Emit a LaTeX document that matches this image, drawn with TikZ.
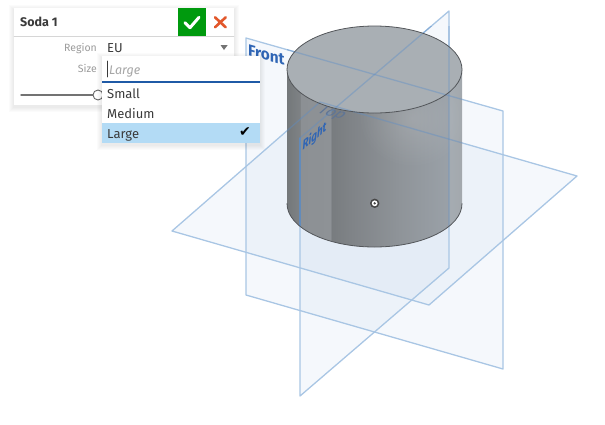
\documentclass[tikz,border=0pt]{standalone}
\usepackage{fontspec}
\setmainfont{Fira Sans}
\newfontfamily\symfont{DejaVu Sans}
\usetikzlibrary{fadings}
\definecolor{planefill}{HTML}{5B8DC8}
\definecolor{planeline}{HTML}{A9C6E4}
\definecolor{planetext}{HTML}{2F65B5}
\definecolor{toptext}{HTML}{5F7596}
\definecolor{capfill}{HTML}{A9AFB4}
\definecolor{edgeline}{HTML}{53565A}
\definecolor{okgreen}{HTML}{009A0E}
\definecolor{cancelred}{HTML}{E2572B}
\definecolor{rowblue}{HTML}{B3DBF5}
\definecolor{inkdark}{HTML}{3A3A3A}
\definecolor{inkgray}{HTML}{9B9B9B}
\definecolor{rulegray}{HTML}{D6D6D6}
\definecolor{underblue}{HTML}{1F5AA6}
\definecolor{sidea}{HTML}{74787A}
\definecolor{sideb}{HTML}{7E8285}
\definecolor{sidec}{HTML}{8C9094}
\definecolor{sided}{HTML}{8E9296}
\definecolor{sidee}{HTML}{787C7F}
\definecolor{sidef}{HTML}{7F8387}
\definecolor{sideg}{HTML}{8F9499}
\definecolor{sideh}{HTML}{9AA1A8}
\definecolor{sidei}{HTML}{A5ACB2}
\definecolor{sidej}{HTML}{A3A8AD}
\pgfdeclarehorizontalshading{sodaside}{100bp}{
	color(0bp)=(sidea); color(25bp)=(sidea); color(28.7bp)=(sideb); color(28.75bp)=(sidec);
	color(37.5bp)=(sided); color(37.6bp)=(sidee); color(43bp)=(sidef);
	color(57.3bp)=(sideg); color(71.25bp)=(sideh); color(71.35bp)=(sidei);
	color(75bp)=(sidej); color(100bp)=(sidej)}
\tikzfading[name=sodaglow, inner color=transparent!86, outer color=transparent!100]
\newcommand{\softshadow}[4]{\foreach \s in {1,2,3,4,5}
	\fill[black, opacity=.016] (#1-\s,#2-\s+2) rectangle (#3+\s,#4+\s+2);}
\tikzset{
	panelbox/.style={fill=white, draw=none, inner sep=0pt},
	plane/.style={fill=planefill, fill opacity=.06, draw=none},
	planeedge/.style={draw=planeline, line width=1.3pt},
	fieldlabel/.style={text=inkgray, font=\fontsize{10.5}{12}\selectfont, anchor=base east, inner sep=0pt},
	fieldtext/.style={text=inkdark, font=\fontsize{13}{15}\selectfont, anchor=base west, inner sep=0pt},
	planelabel/.style={text=planetext, font=\fontsize{16}{18}\selectfont\bfseries, anchor=base west, inner sep=0pt, transform shape}
}
\begin{document}
\begin{tikzpicture}[x=1pt, y=-1pt, line join=round, line cap=round]
	\useasboundingbox (0,0) rectangle (605,424);
	% cac mat phang
	\fill[plane] (246,38)--(503,111)--(503,369)--(246,295)--cycle;
	\fill[plane] (300,138)--(449,11)--(449,268)--(300,396)--cycle;
	\fill[plane] (172,231)--(320,102)--(577,176)--(429,305)--cycle;
	\draw[planeedge] (246,38)--(503,111)--(503,369)--(246,295)--cycle;
	\draw[planeedge] (300,138)--(449,11)--(449,268)--(300,396)--cycle;
	\draw[planeedge] (172,231)--(320,102)--(577,176)--(429,305)--cycle;
	\node[planelabel, cm={.962,-.273,0,1,(0,0)}] (frontlabel) at (248,55) {Front};
	% hinh tru
	\def\rx{87.5pt} \def\ry{43.5pt}
	\shade[shading=sodaside] (287,69.5)--(287,203.5) arc[start angle=180, end angle=360, x radius=\rx, y radius=\ry]--(462,69.5)--cycle;
	\begin{scope}
		\clip (287,69.5)--(287,203.5) arc[start angle=180, end angle=360, x radius=\rx, y radius=\ry]--(462,69.5)--cycle;
		\fill[white, path fading=sodaglow] (412,118) ellipse[x radius=55pt, y radius=50pt];
		\node[planelabel, text=toptext, font=\fontsize{16}{18}\selectfont, cm={.96,-.28,.75,.66,(0,0)}] (toplabel) at (316,112) {Top};
	\end{scope}
	\fill[capfill] (374.5,69.5) ellipse[x radius=\rx, y radius=\ry];
	\begin{scope}
		\clip (287,69.5)--(287,203.5) arc[start angle=180, end angle=360, x radius=\rx, y radius=\ry]--(462,69.5)--(462,26)--(287,26)--cycle;
		\draw[planeedge, draw=planefill, opacity=.4] (246,38)--(503,111);
		\draw[planeedge, draw=planefill, opacity=.4] (300,138)--(449,11)--(449,268);
		\draw[planeedge, draw=planefill, opacity=.4] (172,231)--(320,102)--(577,176);
		\draw[planeedge, draw=planefill, opacity=.8] (300,138)--(300,396);
	\end{scope}
	\draw[edgeline, line width=.8pt] (374.5,69.5) ellipse[x radius=\rx, y radius=\ry];
	\draw[edgeline, line width=.8pt] (287,203.5) arc[start angle=180, end angle=360, x radius=\rx, y radius=\ry];
	\node[planelabel, font=\fontsize{13}{15}\selectfont\itshape\bfseries, cm={.76,.65,0,1,(0,0)}] (rightlabel) at (302.5,151) {Right};
	% diem goc
	\fill[black!72] (374.7,203.3) circle(4.7);
	\fill[white] (374.7,203.3) circle(2.9);
	\fill[black!72] (374.7,203.3) circle(1.3);
	% hop thoai
	\softshadow{14}{8}{234}{105}
	\node[panelbox, minimum width=220pt, minimum height=97pt] (sodapanel) at (124,56.5) {};
	\draw[rulegray, line width=.8pt] (14,36)--(234,36);
	\fill[okgreen] (178,8) rectangle (206,36);
	\draw[white, line width=3pt] (185,22.7)--(190,27.7)--(199,17.3);
	\draw[cancelred, line width=2.6pt] (215,17.3)--(225.7,27.3) (225.7,17.3)--(215,27.3);
	\node[text=inkdark, font=\fontsize{12.5}{14}\selectfont\bfseries, anchor=base west, inner sep=0pt] (titlelabel) at (20,26.5) {Soda 1};
	\node[fieldlabel] (regionlabel) at (97,51) {Region};
	\node[fieldlabel] (sizelabel) at (97,72) {Size};
	\node[fieldtext] (regionvalue) at (107,52) {EU};
	\fill[black!55] (220.5,45)--(227.7,45)--(224,50)--cycle;
	\draw[black!55, line width=1.5pt] (21,95)--(93,95);
	\draw[black!60, fill=white, line width=.9pt] (98,95) circle(5);
	% danh sach
	\softshadow{102}{56}{260}{143}
	\node[panelbox, minimum width=158pt, minimum height=87pt] (sizelist) at (181,99.5) {};
	\draw[inkdark, line width=.8pt] (107.5,61)--(107.5,77);
	\node[fieldtext, text=black!35, font=\fontsize{12.5}{15}\selectfont\itshape] (sizeinput) at (109,74) {Large};
	\fill[underblue] (102,81) rectangle (260,83);
	\fill[rowblue] (102,123) rectangle (260,143);
	\node[fieldtext] (smallitem) at (107,98) {Small};
	\node[fieldtext] (mediumitem) at (107,118) {Medium};
	\node[fieldtext] (largeitem) at (107,138) {Large};
	\node[text=black, font=\symfont\fontsize{14}{16}\selectfont, inner sep=0pt] (largecheck) at (245,132.5) {✔};
\end{tikzpicture}
\end{document}
